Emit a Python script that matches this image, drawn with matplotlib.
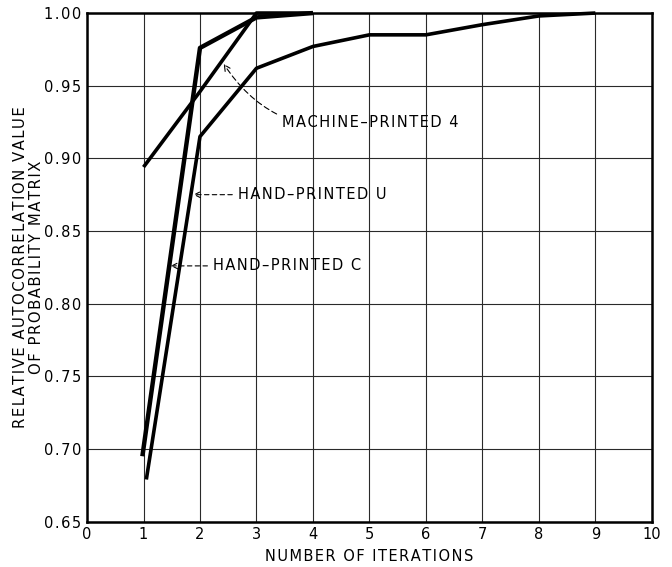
import numpy as np
import matplotlib.pyplot as plt

# data
machine4_x = [1, 2, 3, 4]
machine4_y = [0.894, 0.946, 1.000, 1.000]

hand_c_x = [0.98, 2, 3, 4]
hand_c_y = [0.695, 0.976, 0.997, 1.000]

hand_u_x = [1.05, 2, 3, 4, 5, 6, 7, 8, 9]
hand_u_y = [0.679, 0.915, 0.962, 0.977, 0.985, 0.985, 0.992, 0.998, 1.000]

xticks = list(range(0, 11))
yticks = [0.65, 0.70, 0.75, 0.80, 0.85, 0.90, 0.95, 1.00]

plt.rcParams['font.family'] = ['DejaVu Sans']


def spaced(s):
    # lettering on the original is wider than DejaVu, pad with hair spaces
    return '\u200a'.join(s)


fig = plt.figure(figsize=(6.72, 5.67), dpi=100)
ax = fig.add_axes([0.1295, 0.080, 0.8405, 0.897])

ax.plot(machine4_x, machine4_y, color='black', lw=2.6, solid_capstyle='butt', clip_on=False)
ax.plot(hand_c_x, hand_c_y, color='black', lw=3.2, solid_capstyle='butt', clip_on=False)
ax.plot(hand_u_x, hand_u_y, color='black', lw=2.6, solid_capstyle='butt', clip_on=False)

ax.set_xlim(0, 10)
ax.set_ylim(0.65, 1.00)
ax.set_xticks(xticks)
ax.set_yticks(yticks)
ax.set_yticklabels([spaced('%.2f' % v) for v in yticks])
ax.tick_params(length=0, labelsize=10.5, pad=4)
ax.grid(True, color='#2a2a2a', lw=0.8)
ax.set_axisbelow(True)
for s in ax.spines.values():
    s.set_linewidth(1.8)

ax.set_xlabel(spaced('NUMBER OF ITERATIONS'), fontsize=10.5, labelpad=5)
ax.set_ylabel(spaced('RELATIVE AUTOCORRELATION VALUE') + '\n' + spaced('OF PROBABILITY MATRIX'),
              fontsize=10.7, labelpad=0, linespacing=1.1)

# callout labels with dashed leaders
ax.annotate(spaced('MACHINE–PRINTED 4'), xy=(2.42, 0.965), xytext=(3.45, 0.925),
            fontsize=10.5, va='center',
            arrowprops=dict(arrowstyle='->', ls=(0, (5, 3)), lw=0.8, color='black',
                            connectionstyle='arc3,rad=-0.35', shrinkA=2, shrinkB=0))
ax.annotate(spaced('HAND–PRINTED U'), xy=(1.88, 0.875), xytext=(2.67, 0.875),
            fontsize=10.5, va='center',
            arrowprops=dict(arrowstyle='->', ls=(0, (4, 3)), lw=0.8, color='black',
                            shrinkA=2, shrinkB=0))
ax.annotate(spaced('HAND–PRINTED C'), xy=(1.48, 0.826), xytext=(2.23, 0.826),
            fontsize=10.5, va='center',
            arrowprops=dict(arrowstyle='->', ls=(0, (4, 3)), lw=0.8, color='black',
                            shrinkA=2, shrinkB=0))

fig.savefig('out.png', dpi=100)
